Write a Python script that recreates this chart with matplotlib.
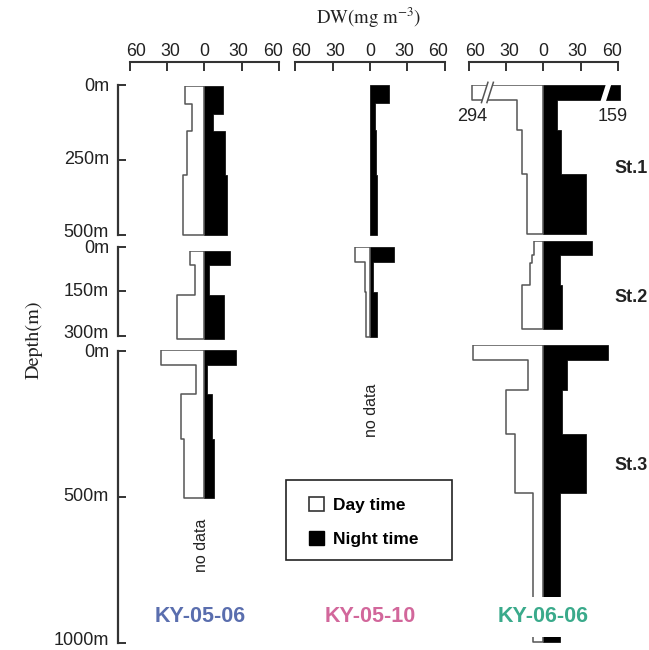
import numpy as np
import matplotlib
matplotlib.use('Agg')
import matplotlib.pyplot as plt
from matplotlib.patches import Patch, Polygon, Rectangle
from matplotlib.lines import Line2D

plt.rcParams['font.family'] = ['Liberation Sans', 'DejaVu Sans']
plt.rcParams['mathtext.fontset'] = 'stix'

# ---------------- data ----------------
cruises = ['KY-05-06', 'KY-05-10', 'KY-06-06']
cruise_colors = ['#5a6eae', '#d2679b', '#3aaa8b']
stations = ['St.1', 'St.2', 'St.3']
station_max_depth = [500, 300, 1000]
depth_ticks = [[0, 250, 500], [0, 150, 300], [0, 500, 1000]]
dw_ticks = [-60, -30, 0, 30, 60]

# KY-05-06
k0506_st1_day_edges = [0, 60, 150, 300, 500]
k0506_st1_day = [15.5, 10, 14, 17]
k0506_st1_night_edges = [0, 95, 150, 300, 500]
k0506_st1_night = [15, 7, 16.5, 18]
k0506_st2_edges = [0, 50, 150, 300]
k0506_st2_day = [11.5, 7.5, 22]
k0506_st2_night = [21, 3.5, 16]
k0506_st3_edges = [0, 50, 150, 300, 500]
k0506_st3_day = [35, 7, 19, 16]
k0506_st3_night = [25.5, 2.5, 6.5, 7.5]

# KY-05-10
k0510_st1_night_edges = [0, 60, 150, 300, 500]
k0510_st1_night = [15, 4, 5, 6]
k0510_st2_edges = [0, 50, 150, 300]
k0510_st2_day = [12, 4, 3]
k0510_st2_night = [19.5, 2.5, 5.5]

# KY-06-06
k0606_st1_edges = [0, 50, 150, 300, 500]
k0606_st1_day = [294, 21.5, 17.5, 13]
k0606_st1_night = [159, 11, 14, 34.5]
k0606_st2_day_edges = [0, 50, 75, 150, 300]
k0606_st2_day = [7.5, 9.5, 11, 17.5]
k0606_st2_night_edges = [0, 50, 150, 300]
k0606_st2_night = [39, 13.5, 15]
k0606_st3_edges = [0, 50, 150, 300, 500, 1000]
k0606_st3_day = [57, 12, 30, 23, 8.5]
k0606_st3_night = [52, 19, 15, 34.5, 13.5]

profiles = {
    (0, 0): (k0506_st1_day_edges, k0506_st1_day, k0506_st1_night_edges, k0506_st1_night),
    (0, 1): (k0506_st2_edges, k0506_st2_day, k0506_st2_edges, k0506_st2_night),
    (0, 2): (k0506_st3_edges, k0506_st3_day, k0506_st3_edges, k0506_st3_night),
    (1, 0): (None, None, k0510_st1_night_edges, k0510_st1_night),
    (1, 1): (k0510_st2_edges, k0510_st2_day, k0510_st2_edges, k0510_st2_night),
    (2, 0): (k0606_st1_edges, k0606_st1_day, k0606_st1_edges, k0606_st1_night),
    (2, 1): (k0606_st2_day_edges, k0606_st2_day, k0606_st2_night_edges, k0606_st2_night),
    (2, 2): (k0606_st3_edges, k0606_st3_day, k0606_st3_edges, k0606_st3_night),
}

# ---------------- layout (pixels) ----------------
W, H = 649, 650
fig = plt.figure(figsize=(W / 100, H / 100), dpi=100)

col_center = [204.3, 370.0, 543.3]
px_per_unit = 1.2417
panel_top = {(0, 0): 86, (0, 1): 250.7, (0, 2): 350,
             (1, 0): 85, (1, 1): 247.3,
             (2, 0): 85, (2, 1): 240.7, (2, 2): 345}
panel_bottom = {(0, 0): 235, (0, 1): 339.3, (0, 2): 646.6,
                (1, 0): 235, (1, 1): 337.3,
                (2, 0): 234, (2, 1): 329.3, (2, 2): 641.7}
depth_axis_top = [85, 246.7, 350.7]
depth_axis_bottom = [235, 335.7, 643]
break_caps = {(2, 0): (57.4, 61.8)}   # display break for off-scale bars
XSPAN = 66
AX_COLOR = '#333333'
TXT = '#222222'


def px_rect(l, t, r, b):
    return [l / W, 1 - b / H, (r - l) / W, (b - t) / H]


def draw_break(ax, xc, d0, d1, outline):
    dx, g, ext = 2.6, 2.2, 9
    verts = [(xc - g - dx, d1 + ext), (xc + g - dx, d1 + ext),
             (xc + g + dx, d0 - ext), (xc - g + dx, d0 - ext)]
    ax.add_patch(Polygon(verts, closed=True, facecolor='white',
                         edgecolor='none', zorder=5, clip_on=False))
    if outline:
        for s in (-g, g):
            ax.add_line(Line2D([xc + s - dx, xc + s + dx], [d1 + ext, d0 - ext],
                               color='#555555', lw=1.1, zorder=6, clip_on=False))


for (ci, si), (de, dv, ne, nv) in profiles.items():
    c = col_center[ci]
    ax = fig.add_axes(px_rect(c - XSPAN * px_per_unit, panel_top[(ci, si)],
                              c + XSPAN * px_per_unit, panel_bottom[(ci, si)]))
    ax.set_xlim(-XSPAN, XSPAN)
    ax.set_ylim(station_max_depth[si], 0)
    ax.axis('off')
    caps = break_caps.get((ci, si), (np.inf, np.inf))
    if nv is not None:
        shown = np.minimum(np.array(nv, float), caps[1])
        ax.fill_betweenx(ne, np.append(shown, shown[-1]), 0, step='post',
                         facecolor='black', edgecolor='black', lw=0.5, zorder=2)
    if dv is not None:
        shown = np.minimum(np.array(dv, float), caps[0])
        ax.fill_betweenx(de, -np.append(shown, shown[-1]), 0, step='post',
                         facecolor='white', edgecolor='#555555', lw=1.1, zorder=3)
    if (ci, si) in break_caps:
        d0, d1 = de[0], de[1]
        draw_break(ax, -45, d0, d1, True)
        draw_break(ax, 50.5, d0, d1, False)
        ax.text(-caps[0] + 0.5, 107, f'{dv[0]:g}', ha='center', va='center',
                fontsize=13, color=TXT)
        ax.text(56, 107, f'{nv[0]:g}', ha='center', va='center',
                fontsize=13, color=TXT)

# top DW axes
label_squeeze = 0.92
for ci in range(3):
    c = col_center[ci]
    tax = fig.add_axes(px_rect(c - 60 * px_per_unit, 62, c + 60 * px_per_unit, 80))
    tax.set_xlim(-60, 60)
    tax.set_ylim(0, 1)
    tax.patch.set_visible(False)
    for k in ('left', 'right', 'bottom'):
        tax.spines[k].set_visible(False)
    tax.spines['top'].set_linewidth(1.5)
    tax.spines['top'].set_color(AX_COLOR)
    tax.xaxis.tick_top()
    tax.set_xticks(dw_ticks)
    tax.set_xticklabels([])
    tax.set_yticks([])
    tax.tick_params(axis='x', direction='in', length=6.5, width=1.4, colors=AX_COLOR)
    for t in dw_ticks:
        fig.text((c + t * label_squeeze * px_per_unit) / W, 1 - 51 / H, str(abs(t)),
                 ha='center', va='center', fontsize=12.8, color=TXT)

# depth axes
for si in range(3):
    top, bot = depth_axis_top[si], depth_axis_bottom[si]
    dax = fig.add_axes(px_rect(118, top, 130, bot))
    dax.set_ylim(station_max_depth[si], 0)
    dax.patch.set_visible(False)
    for k in ('top', 'right', 'bottom'):
        dax.spines[k].set_visible(False)
    dax.spines['left'].set_linewidth(1.6)
    dax.spines['left'].set_color(AX_COLOR)
    dax.set_xticks([])
    dax.set_yticks(depth_ticks[si])
    dax.set_yticklabels([])
    dax.tick_params(axis='y', direction='in', length=6, width=1.4, colors=AX_COLOR)
    offs = [1.5, 0, -2.5]
    for t, o in zip(depth_ticks[si], offs):
        ypx = top + t / station_max_depth[si] * (bot - top) + o
        fig.text(109 / W, 1 - ypx / H, f'{t}m', ha='right', va='center',
                 fontsize=13, color=TXT)

# station labels
for si, y in enumerate([168, 297, 466]):
    fig.text(631 / W, 1 - y / H, stations[si], ha='center', va='center',
             fontsize=13, fontweight='bold', color=TXT)

# cruise labels (white box masks the deep bar like the original)
for ci in range(3):
    fig.text((col_center[ci] - 4 * (ci == 0)) / W, 1 - 617 / H, cruises[ci],
             ha='center', va='center', fontsize=15.5, fontweight='bold',
             color=cruise_colors[ci],
             bbox=dict(boxstyle='square,pad=0.42', facecolor='white', edgecolor='none'))

# no data notes
fig.text(201 / W, 1 - 545 / H, 'no data', rotation=90, ha='center', va='center',
         fontsize=11.5, color=TXT)
fig.text(372 / W, 1 - 410 / H, 'no data', rotation=90, ha='center', va='center',
         fontsize=11.5, color=TXT)

# axis titles
fig.text(368 / W, 1 - 18 / H, 'DW(mg m$^{-3}$)', ha='center', va='center',
         fontsize=13.5, family='STIXGeneral', color=TXT)
fig.text(34 / W, 1 - 340 / H, 'Depth(m)', rotation=90, ha='center', va='center',
         fontsize=14.5, family='STIXGeneral', color=TXT)

# legend (frame drawn as a fixed box, entries via legend)
fig.patches.append(Rectangle((286 / W, 1 - 560 / H), 166 / W, 80 / H,
                             transform=fig.transFigure, facecolor='white',
                             edgecolor='#222222', lw=1.2, zorder=4))
handles = [Patch(facecolor='white', edgecolor='#333333', lw=1.2),
           Patch(facecolor='black', edgecolor='black')]
leg = fig.legend(handles, ['Day time', 'Night time'], loc='upper left',
                 bbox_to_anchor=(309 / W, 1 - 497 / H), frameon=False,
                 prop=dict(weight='bold', size=12.5), handlelength=0.85, handleheight=0.85,
                 borderpad=0, labelspacing=1.05, handletextpad=0.55, borderaxespad=0)
leg.set_zorder(5)

fig.savefig('out.png', dpi=100)
